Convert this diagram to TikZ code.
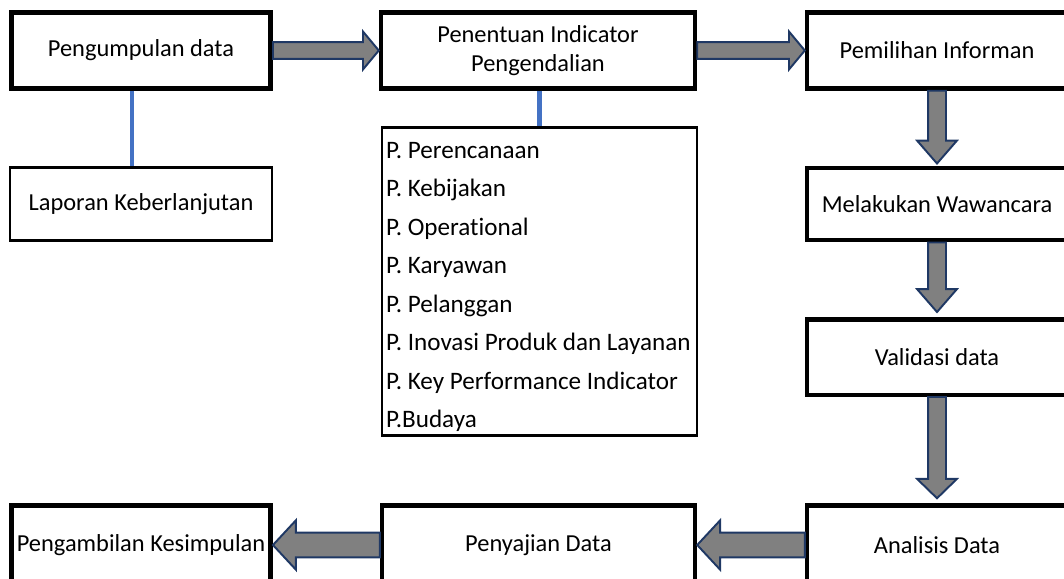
\documentclass[tikz,border=0pt]{standalone}
\usepackage{fontspec}
\setmainfont{Carlito}[Ligatures=NoCommon]
\usetikzlibrary{calc,positioning}
\definecolor{flowgray}{RGB}{128,128,128}
\definecolor{flownavy}{RGB}{31,56,100}
\definecolor{flowblue}{RGB}{68,114,196}

\newcommand{\blockarrow}[5]{%
 \draw[fatarrow] let \p1=(#1),\p2=(#2),
  \n1={veclen(\x2-\x1,\y2-\y1)},
  \n2={(\x2-\x1)/\n1},\n3={(\y2-\y1)/\n1},\n4={\n1-#5} in
  ({\x1-(\n3)*#3},{\y1+(\n2)*#3})
  -- ({\x1+(\n4)*(\n2)-(\n3)*#3},{\y1+(\n4)*(\n3)+(\n2)*#3})
  -- ({\x1+(\n4)*(\n2)-(\n3)*#4},{\y1+(\n4)*(\n3)+(\n2)*#4})
  -- (\p2)
  -- ({\x1+(\n4)*(\n2)+(\n3)*#4},{\y1+(\n4)*(\n3)-(\n2)*#4})
  -- ({\x1+(\n4)*(\n2)+(\n3)*#3},{\y1+(\n4)*(\n3)-(\n2)*#3})
  -- ({\x1+(\n3)*#3},{\y1-(\n2)*#3}) -- cycle;}

\begin{document}
\begin{tikzpicture}[x=0.02cm,y=-0.02cm,line join=miter,
  font=\fontsize{13.9}{16.3}\selectfont,
  box/.style={draw,line width=2.55pt,inner sep=0pt,align=center,
   minimum width=#1,minimum height=1.52cm},
  thinbox/.style={draw,line width=1.2pt,inner sep=0pt,align=center},
  fatarrow/.style={draw=flownavy,fill=flowgray,line width=1.1pt},
  link/.style={flowblue,line width=2.6pt}]
 \useasboundingbox (0,0) rectangle (1064,578);
 \clip (0,0) rectangle (1064,578);
 \node[box=5.19cm] (collect) at (141,50.5) {Pengumpulan data};
 \node[box=6.28cm] (indicator) at (538,50.5) {Penentuan Indicator\\Pengendalian};
 \node[box=5.2cm] (informant) at (937,50.5) {Pemilihan Informan};
 \node[box=5.2cm,minimum height=1.45cm] (interview) at (937,204) {Melakukan Wawancara};
 \node[box=5.2cm,minimum height=1.51cm] (validate) at (937,357) {Validasi data};
 \node[box=5.2cm,minimum height=1.58cm] (analysis) at (937,545) {Analisis Data};
 \node[box=6.26cm,minimum height=1.58cm] (present) at (538.5,545) {Penyajian Data};
 \node[box=5.19cm,minimum height=1.58cm] (conclude) at (141,545) {Pengambilan Kesimpulan};
 \node[thinbox,minimum width=5.24cm,minimum height=1.46cm] (report) at (141,204)
  {Laporan Keberlanjutan};
 \node[thinbox,align=flush left,inner xsep=0.08cm,text width=6.14cm,minimum height=6.16cm,
  font=\fontsize{14.3}{21.9}\selectfont] (aspects) at (539.5,281.5)
  {\rule{0pt}{15.6pt}P. Perencanaan\\P. Kebijakan\\P. Operational\\P. Karyawan\\P. Pelanggan\\
   P. Inovasi Produk dan Layanan\\P. Key Performance Indicator\\P.Budaya};
 \draw[link] ([xshift=-0.18cm]collect.south) -- ([xshift=-0.18cm]report.north);
 \draw[link] (aspects.north |- indicator.south) -- (aspects.north);
 \blockarrow{collect.east}{indicator.west}{4.8}{10.8}{9}
 \blockarrow{indicator.east}{informant.west}{4.8}{10.8}{9}
 \blockarrow{informant.south}{$(interview.north)+(0,-2)$}{5.1}{11.3}{13}
 \blockarrow{interview.south}{$(validate.north)+(0,-5)$}{5.1}{11.3}{13}
 \blockarrow{validate.south}{$(analysis.north)+(0,-5)$}{5.1}{11.3}{11}
 \blockarrow{analysis.west}{present.east}{7}{14}{13}
 \blockarrow{present.west}{conclude.east}{7}{14}{13}
\end{tikzpicture}
\end{document}
